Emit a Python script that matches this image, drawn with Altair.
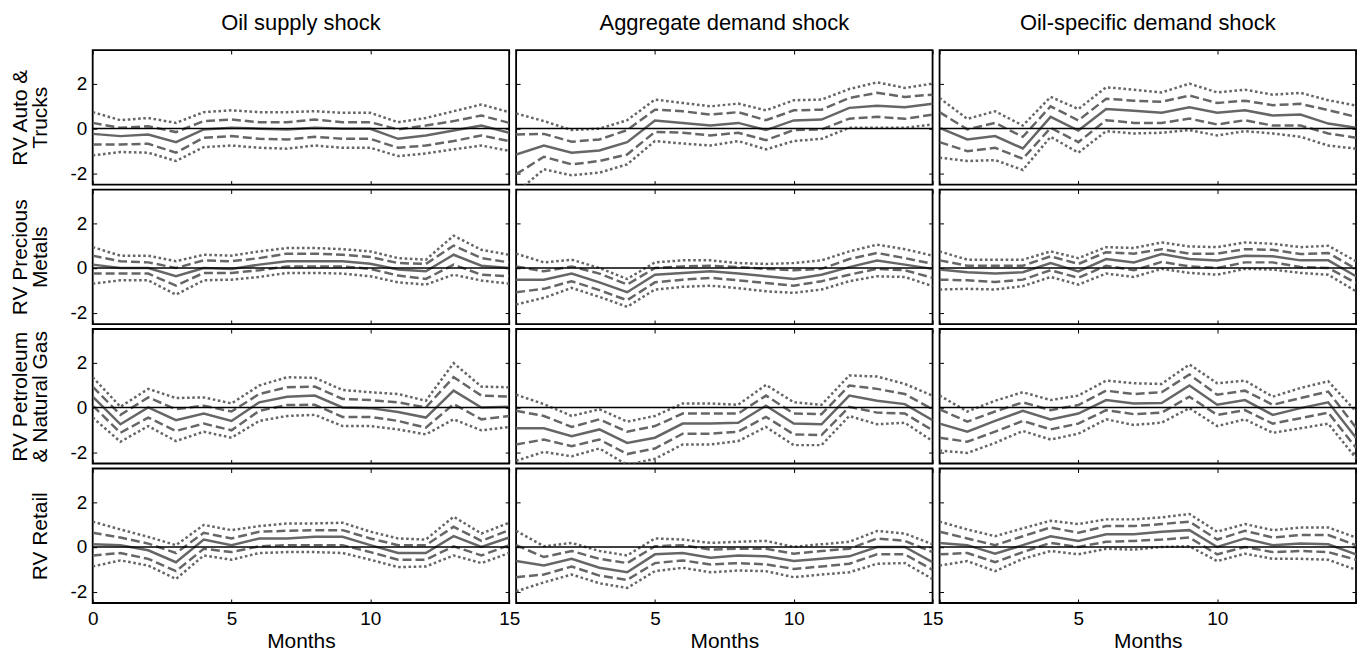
import altair as alt
import pandas as pd

months = list(range(16))
shock_titles = ["Oil supply shock", "Aggregate demand shock", "Oil-specific demand shock"]
sector_titles = [["RV Auto &", "Trucks"], ["RV Precious", "Metals"],
                 ["RV Petroleum", "& Natural Gas"], ["RV Retail"]]
x_ticks = [0, 5, 10, 15]
y_ticks = [-2, 0, 2]
x_domain = [0, 15]
y_domain = [-2.5, 3.5]
zero_line = [0]
band_names = ["mid", "dhi", "dlo", "phi", "plo"]

# ---- RV Auto & Trucks ----
auto_supply_mid = [-0.24, -0.34, -0.27, -0.61, -0.04, 0.03, -0.01, -0.04, 0.03, -0.01, -0.01, -0.46, -0.31, -0.09, 0.13, -0.19]
auto_supply_dhi = [0.25, 0.03, 0.10, -0.16, 0.33, 0.40, 0.28, 0.28, 0.40, 0.28, 0.28, -0.04, 0.13, 0.33, 0.58, 0.25]
auto_supply_dlo = [-0.71, -0.71, -0.68, -1.08, -0.41, -0.34, -0.46, -0.49, -0.37, -0.46, -0.46, -0.86, -0.76, -0.56, -0.31, -0.56]
auto_supply_phi = [0.73, 0.37, 0.47, 0.25, 0.73, 0.81, 0.73, 0.73, 0.77, 0.70, 0.70, 0.28, 0.47, 0.77, 1.07, 0.73]
auto_supply_plo = [-1.20, -1.05, -1.08, -1.45, -0.83, -0.76, -0.86, -0.90, -0.76, -0.86, -0.86, -1.23, -1.11, -0.93, -0.76, -1.00]

auto_demand_mid = [-1.16, -0.76, -1.08, -0.98, -0.61, 0.36, 0.25, 0.13, 0.25, -0.07, 0.36, 0.40, 0.92, 1.02, 0.95, 1.10]
auto_demand_dhi = [-0.27, -0.24, -0.59, -0.49, -0.07, 0.84, 0.77, 0.62, 0.73, 0.37, 0.81, 0.84, 1.36, 1.59, 1.41, 1.51]
auto_demand_dlo = [-2.04, -1.26, -1.60, -1.45, -1.16, -0.15, -0.19, -0.31, -0.19, -0.52, -0.07, -0.04, 0.44, 0.52, 0.43, 0.62]
auto_demand_phi = [0.67, 0.33, -0.07, -0.01, 0.37, 1.29, 1.14, 0.99, 1.11, 0.81, 1.26, 1.29, 1.76, 2.06, 1.81, 2.00]
auto_demand_plo = [-2.86, -1.82, -2.09, -1.97, -1.60, -0.56, -0.67, -0.76, -0.56, -0.93, -0.56, -0.46, 0.03, 0.03, 0.03, 0.18]

auto_oil_mid = [0.03, -0.49, -0.34, -0.89, 0.52, -0.09, 0.87, 0.79, 0.70, 0.95, 0.70, 0.81, 0.58, 0.62, 0.22, 0.03]
auto_oil_dhi = [0.73, -0.04, 0.25, -0.37, 0.99, 0.36, 1.33, 1.24, 1.19, 1.47, 1.14, 1.24, 1.04, 1.10, 0.82, 0.52]
auto_oil_dlo = [-0.61, -1.01, -0.86, -1.35, 0.03, -0.61, 0.37, 0.25, 0.25, 0.44, 0.18, 0.37, 0.13, 0.13, -0.22, -0.41]
auto_oil_phi = [1.36, 0.43, 0.77, 0.13, 1.41, 0.87, 1.84, 1.73, 1.61, 2.00, 1.61, 1.73, 1.51, 1.59, 1.26, 1.02]
auto_oil_plo = [-1.30, -1.45, -1.41, -1.85, -0.37, -1.08, -0.12, -0.22, -0.19, -0.07, -0.31, -0.12, -0.22, -0.37, -0.76, -0.90]

# ---- RV Precious Metals ----
metals_supply_mid = [0.15, 0.00, 0.00, -0.37, 0.00, -0.04, 0.15, 0.30, 0.30, 0.30, 0.19, -0.07, -0.15, 0.59, 0.10, 0.00]
metals_supply_dhi = [0.55, 0.30, 0.25, 0.00, 0.34, 0.30, 0.44, 0.64, 0.64, 0.59, 0.49, 0.22, 0.18, 1.00, 0.44, 0.25]
metals_supply_dlo = [-0.25, -0.25, -0.25, -0.79, -0.22, -0.22, -0.10, 0.07, 0.07, 0.07, -0.04, -0.34, -0.49, 0.15, -0.30, -0.37]
metals_supply_phi = [0.93, 0.55, 0.55, 0.30, 0.59, 0.55, 0.74, 0.89, 0.89, 0.84, 0.74, 0.44, 0.37, 1.44, 0.81, 0.59]
metals_supply_plo = [-0.70, -0.55, -0.55, -1.19, -0.55, -0.52, -0.40, -0.22, -0.22, -0.25, -0.37, -0.64, -0.74, -0.30, -0.56, -0.70]

metals_demand_mid = [-0.52, -0.52, -0.25, -0.64, -1.08, -0.30, -0.22, -0.15, -0.25, -0.37, -0.49, -0.30, 0.04, 0.33, 0.15, -0.04]
metals_demand_dhi = [0.07, -0.15, 0.07, -0.25, -0.74, 0.00, 0.07, 0.10, 0.04, -0.04, -0.10, -0.04, 0.40, 0.67, 0.44, 0.19]
metals_demand_dlo = [-1.08, -0.93, -0.59, -0.99, -1.44, -0.64, -0.52, -0.44, -0.55, -0.67, -0.79, -0.59, -0.30, -0.04, -0.10, -0.44]
metals_demand_phi = [0.64, 0.25, 0.37, 0.00, -0.49, 0.25, 0.34, 0.34, 0.22, 0.18, 0.22, 0.34, 0.74, 1.04, 0.84, 0.55]
metals_demand_plo = [-1.63, -1.33, -0.89, -1.29, -1.73, -0.96, -0.84, -0.79, -0.90, -1.04, -1.11, -0.96, -0.59, -0.37, -0.40, -0.81]

metals_oil_mid = [-0.07, -0.19, -0.25, -0.19, 0.22, -0.15, 0.40, 0.25, 0.62, 0.40, 0.33, 0.55, 0.52, 0.34, 0.34, -0.37]
metals_oil_dhi = [0.34, 0.10, 0.10, 0.10, 0.52, 0.18, 0.70, 0.64, 0.84, 0.64, 0.64, 0.84, 0.81, 0.62, 0.67, -0.04]
metals_oil_dlo = [-0.52, -0.55, -0.62, -0.52, -0.10, -0.44, 0.10, -0.10, 0.27, 0.07, 0.00, 0.25, 0.25, 0.04, 0.00, -0.67]
metals_oil_phi = [0.74, 0.37, 0.37, 0.37, 0.74, 0.44, 0.93, 0.89, 1.14, 0.96, 0.93, 1.14, 1.08, 0.93, 0.99, 0.30]
metals_oil_plo = [-0.96, -0.93, -0.96, -0.81, -0.40, -0.74, -0.25, -0.40, -0.04, -0.22, -0.30, -0.04, -0.07, -0.22, -0.30, -1.04]

# ---- RV Petroleum & Natural Gas ----
pet_supply_mid = [0.48, -0.75, 0.00, -0.57, -0.27, -0.60, 0.23, 0.48, 0.53, 0.00, -0.03, -0.20, -0.45, 0.75, 0.00, 0.03]
pet_supply_dhi = [0.93, -0.33, 0.45, -0.08, 0.08, -0.18, 0.60, 0.90, 0.93, 0.38, 0.33, 0.23, 0.00, 1.35, 0.53, 0.48]
pet_supply_dlo = [0.08, -1.13, -0.45, -1.05, -0.72, -1.02, -0.15, 0.11, 0.12, -0.42, -0.42, -0.60, -0.90, 0.15, -0.53, -0.38]
pet_supply_phi = [1.35, 0.03, 0.83, 0.42, 0.45, 0.18, 0.98, 1.35, 1.32, 0.78, 0.68, 0.60, 0.30, 1.98, 0.93, 0.90]
pet_supply_plo = [-0.45, -1.53, -0.83, -1.50, -1.08, -1.35, -0.60, -0.38, -0.33, -0.83, -0.83, -0.98, -1.20, -0.53, -1.02, -0.87]

pet_demand_mid = [-0.93, -0.93, -1.28, -0.98, -1.58, -1.35, -0.72, -0.72, -0.68, 0.08, -0.72, -0.75, 0.53, 0.30, 0.15, -0.57]
pet_demand_dhi = [-0.15, -0.38, -0.87, -0.53, -1.08, -0.83, -0.27, -0.27, -0.27, 0.53, -0.27, -0.30, 0.98, 0.83, 0.60, -0.08]
pet_demand_dlo = [-1.65, -1.43, -1.73, -1.43, -2.08, -1.83, -1.17, -1.17, -1.08, -0.42, -1.20, -1.23, 0.03, -0.23, -0.27, -1.02]
pet_demand_phi = [0.57, 0.15, -0.38, -0.08, -0.63, -0.38, 0.18, 0.18, 0.12, 1.01, 0.23, 0.12, 1.43, 1.38, 1.05, 0.53]
pet_demand_plo = [-2.38, -1.98, -2.18, -1.83, -2.56, -2.29, -1.65, -1.65, -1.50, -0.87, -1.68, -1.68, -0.38, -0.75, -0.68, -1.50]

pet_oil_mid = [-0.72, -1.08, -0.60, -0.15, -0.53, -0.27, 0.33, 0.18, 0.20, 0.98, 0.12, 0.33, -0.33, -0.03, 0.23, -1.35]
pet_oil_dhi = [-0.08, -0.63, -0.18, 0.23, -0.12, 0.11, 0.75, 0.60, 0.68, 1.47, 0.57, 0.75, 0.12, 0.42, 0.71, -0.90]
pet_oil_dlo = [-1.35, -1.53, -1.08, -0.60, -0.98, -0.72, -0.12, -0.30, -0.23, 0.48, -0.33, -0.12, -0.72, -0.48, -0.23, -1.80]
pet_oil_phi = [0.53, -0.18, 0.30, 0.68, 0.33, 0.53, 1.20, 1.08, 1.05, 1.92, 1.08, 1.20, 0.48, 0.87, 1.17, -0.18]
pet_oil_plo = [-1.92, -2.03, -1.58, -1.05, -1.43, -1.17, -0.53, -0.78, -0.68, -0.03, -0.83, -0.53, -1.13, -0.93, -0.72, -2.26]

# ---- RV Retail ----
retail_supply_mid = [0.12, 0.08, -0.15, -0.68, 0.33, 0.08, 0.38, 0.38, 0.45, 0.45, 0.08, -0.27, -0.27, 0.48, 0.00, 0.42]
retail_supply_dhi = [0.63, 0.42, 0.15, -0.27, 0.63, 0.38, 0.68, 0.72, 0.75, 0.75, 0.38, 0.08, 0.08, 0.90, 0.27, 0.75]
retail_supply_dlo = [-0.38, -0.27, -0.53, -1.08, -0.08, -0.23, 0.03, 0.08, 0.08, 0.08, -0.23, -0.57, -0.57, 0.03, -0.38, 0.08]
retail_supply_phi = [1.13, 0.78, 0.45, 0.08, 0.98, 0.75, 0.93, 1.05, 1.05, 1.08, 0.68, 0.38, 0.33, 1.35, 0.60, 1.08]
retail_supply_plo = [-0.87, -0.60, -0.83, -1.43, -0.38, -0.57, -0.27, -0.23, -0.23, -0.27, -0.57, -0.90, -0.87, -0.38, -0.72, -0.27]

retail_demand_mid = [-0.63, -0.83, -0.53, -0.93, -1.13, -0.33, -0.27, -0.48, -0.38, -0.42, -0.63, -0.53, -0.42, 0.00, 0.00, -0.68]
retail_demand_dhi = [0.08, -0.45, -0.18, -0.53, -0.72, 0.03, 0.08, -0.12, -0.08, -0.08, -0.30, -0.18, -0.08, 0.38, 0.27, -0.23]
retail_demand_dlo = [-1.35, -1.23, -0.87, -1.28, -1.47, -0.72, -0.60, -0.78, -0.72, -0.78, -0.98, -0.87, -0.75, -0.33, -0.33, -1.02]
retail_demand_phi = [0.72, 0.03, 0.18, -0.18, -0.38, 0.38, 0.33, 0.18, 0.23, 0.27, 0.00, 0.12, 0.23, 0.71, 0.60, 0.12]
retail_demand_plo = [-1.98, -1.58, -1.23, -1.62, -1.83, -1.08, -0.93, -1.13, -1.05, -1.08, -1.35, -1.23, -1.13, -0.75, -0.72, -1.43]

retail_oil_mid = [0.18, 0.08, -0.30, 0.08, 0.48, 0.27, 0.57, 0.57, 0.68, 0.75, 0.00, 0.38, 0.08, 0.15, 0.12, -0.33]
retail_oil_dhi = [0.68, 0.38, 0.08, 0.48, 0.87, 0.63, 0.93, 0.93, 1.02, 1.13, 0.33, 0.72, 0.42, 0.53, 0.53, 0.08]
retail_oil_dlo = [-0.33, -0.27, -0.68, -0.23, 0.18, 0.00, 0.23, 0.27, 0.33, 0.42, -0.33, 0.00, -0.23, -0.18, -0.23, -0.57]
retail_oil_phi = [1.13, 0.78, 0.48, 0.83, 1.17, 1.02, 1.23, 1.23, 1.32, 1.47, 0.68, 1.02, 0.75, 0.87, 0.87, 0.42]
retail_oil_plo = [-0.83, -0.63, -1.08, -0.53, -0.18, -0.33, -0.08, -0.12, 0.00, 0.03, -0.63, -0.30, -0.53, -0.53, -0.57, -1.02]

grid = [
    [(auto_supply_mid, auto_supply_dhi, auto_supply_dlo, auto_supply_phi, auto_supply_plo),
     (auto_demand_mid, auto_demand_dhi, auto_demand_dlo, auto_demand_phi, auto_demand_plo),
     (auto_oil_mid, auto_oil_dhi, auto_oil_dlo, auto_oil_phi, auto_oil_plo)],
    [(metals_supply_mid, metals_supply_dhi, metals_supply_dlo, metals_supply_phi, metals_supply_plo),
     (metals_demand_mid, metals_demand_dhi, metals_demand_dlo, metals_demand_phi, metals_demand_plo),
     (metals_oil_mid, metals_oil_dhi, metals_oil_dlo, metals_oil_phi, metals_oil_plo)],
    [(pet_supply_mid, pet_supply_dhi, pet_supply_dlo, pet_supply_phi, pet_supply_plo),
     (pet_demand_mid, pet_demand_dhi, pet_demand_dlo, pet_demand_phi, pet_demand_plo),
     (pet_oil_mid, pet_oil_dhi, pet_oil_dlo, pet_oil_phi, pet_oil_plo)],
    [(retail_supply_mid, retail_supply_dhi, retail_supply_dlo, retail_supply_phi, retail_supply_plo),
     (retail_demand_mid, retail_demand_dhi, retail_demand_dlo, retail_demand_phi, retail_demand_plo),
     (retail_oil_mid, retail_oil_dhi, retail_oil_dlo, retail_oil_phi, retail_oil_plo)],
]

FONT = "Liberation Sans"
GRAY = "#666666"
W, H = 418, 135
LW = 2.5


def make_panel(r, c):
    rows = []
    for name, vals in zip(band_names, grid[r][c]):
        for m, v in zip(months, vals):
            rows.append({"month": m, "value": v, "band": name})
    df = pd.DataFrame(rows)
    xs = alt.Scale(domain=x_domain, nice=False, zero=False)
    ys = alt.Scale(domain=y_domain, nice=False, zero=False)
    last = r == 3
    first = c == 0
    if c == 0:
        xlab = "datum.label"
    elif c == 1:
        xlab = "datum.value == 0 ? '' : datum.label"
    else:
        xlab = "(datum.value == 0 || datum.value == 15) ? '' : datum.label"

    ax_bottom = alt.Axis(orient="bottom", values=x_ticks, offset=-4, tickSize=4, domain=False,
                         grid=False, labels=last, labelExpr=xlab, labelFlush=False,
                         labelPadding=7, title="Months" if last else None, titlePadding=2)
    ax_left = alt.Axis(orient="left", values=y_ticks, offset=-4, tickSize=4, domain=False,
                       grid=False, labels=first, labelExpr="datum.value + ''", labelPadding=6,
                       title=sector_titles[r] if first else None, titlePadding=19)
    ax_top = alt.Axis(orient="top", values=x_ticks, offset=-4, tickSize=4, domain=False,
                      grid=False, labels=False, title=None)
    ax_right = alt.Axis(orient="right", values=y_ticks, offset=-4, tickSize=4, domain=False,
                        grid=False, labels=False, title=None)

    base = alt.Chart(df)
    dotted = base.transform_filter(
        alt.FieldOneOfPredicate(field="band", oneOf=["phi", "plo"])
    ).mark_line(color=GRAY, strokeWidth=LW, strokeDash=[2.6, 2.6], clip=True).encode(
        x=alt.X("month:Q", scale=xs, axis=None),
        y=alt.Y("value:Q", scale=ys, axis=None),
        detail="band:N",
    )
    dashed = base.transform_filter(
        alt.FieldOneOfPredicate(field="band", oneOf=["dhi", "dlo"])
    ).mark_line(color=GRAY, strokeWidth=LW, strokeDash=[9, 4], clip=True).encode(
        x=alt.X("month:Q", scale=xs, axis=ax_top),
        y=alt.Y("value:Q", scale=ys, axis=ax_right),
        detail="band:N",
    )
    solid = base.transform_filter(
        alt.FieldEqualPredicate(field="band", equal="mid")
    ).mark_line(color=GRAY, strokeWidth=LW, clip=True).encode(
        x=alt.X("month:Q", scale=xs, axis=ax_bottom),
        y=alt.Y("value:Q", scale=ys, axis=ax_left),
    )
    zero = alt.Chart(pd.DataFrame({"zero": zero_line})).mark_rule(
        color="black", strokeWidth=1.4
    ).encode(y=alt.Y("zero:Q", scale=ys, axis=None))

    layer = alt.layer(dotted, dashed, solid, zero).resolve_axis(x="independent", y="independent")
    if r == 0:
        layer = layer.properties(width=W, height=H, title=alt.TitleParams(shock_titles[c]))
    else:
        layer = layer.properties(width=W, height=H)
    return layer


panels = [make_panel(r, c) for r in range(4) for c in range(3)]

chart = alt.concat(
    *panels, columns=3, spacing={"row": 5, "column": 7}, bounds="flush"
).configure_view(
    stroke="black", strokeWidth=1.8
).configure_axis(
    tickColor="black", tickWidth=1, labelFont=FONT, labelFontSize=19, labelColor="black",
    titleFont=FONT, titleFontSize=21, titleFontWeight="normal", titleColor="black",
    titleLineHeight=21
).configure_title(
    font=FONT, fontSize=22, fontWeight="normal", color="black", offset=15, anchor="middle"
).properties(
    padding={"left": 0, "top": 1, "right": 0, "bottom": 0}
)

chart.save("out.html", embed_options={"renderer": "svg", "actions": False})
